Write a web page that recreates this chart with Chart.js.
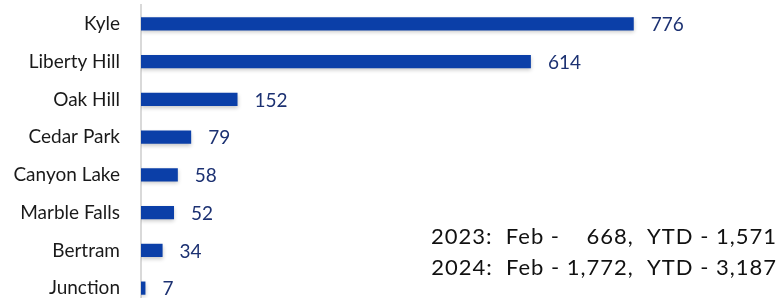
<!DOCTYPE html>
<html>
<head>
<meta charset="utf-8">
<style>
  html, body { margin: 0; padding: 0; background: #fff; overflow: hidden; }
</style>
</head>
<body>
<canvas id="cityChart" width="779" height="310"></canvas>

<script src="https://cdn.jsdelivr.net/npm/chart.js@4.4.1/dist/chart.umd.min.js"></script>

<script>
	// closings by city, Feb 2024
	var cities = ["Kyle", "Liberty Hill", "Oak Hill", "Cedar Park", "Canyon Lake", "Marble Falls", "Bertram", "Junction"]
	var counts = [776, 614, 152, 79, 58, 52, 34, 7]
	var summaryLines = [
		"2023:  Feb -    668,  YTD - 1,571",
		"2024:  Feb - 1,772,  YTD - 3,187"
	]

	const FONT = "Lato, 'Open Sans', sans-serif"

	// soft shadow under the bars, like the original
	const barShadow = {
		id: "barShadow",
		beforeDatasetsDraw(chart) {
			const ctx = chart.ctx
			ctx.save()
			ctx.shadowColor = "rgba(0, 0, 0, 0.22)"
			ctx.shadowBlur = 4
			ctx.shadowOffsetY = 2
		},
		afterDatasetsDraw(chart) {
			chart.ctx.restore()
		}
	}

	// numbers at the end of each bar
	const valueLabels = {
		id: "valueLabels",
		afterDatasetsDraw(chart) {
			const ctx = chart.ctx
			const meta = chart.getDatasetMeta(0)
			ctx.save()
			ctx.font = "19px " + FONT
			ctx.fillStyle = "#1c3172"
			ctx.textBaseline = "middle"
			ctx.textAlign = "left"
			meta.data.forEach((bar, i) => {
				ctx.fillText(counts[i], bar.x + 17, bar.y + 1)
			})
			ctx.restore()
		}
	}

	// the two summary lines, bottom right
	const summary = {
		id: "summary",
		afterDraw(chart) {
			const ctx = chart.ctx
			ctx.save()
			ctx.font = "22px " + FONT
			ctx.letterSpacing = "1px"
			ctx.fillStyle = "#111"
			ctx.textAlign = "right"
			ctx.textBaseline = "alphabetic"
			ctx.fillText(summaryLines[0], 777, 244)
			ctx.fillText(summaryLines[1], 777, 275)
			ctx.restore()
		}
	}

	const chart = new Chart(document.getElementById("cityChart"), {
		type: "bar",
		data: {
			labels: cities,
			datasets: [{
				data: counts,
				backgroundColor: "#0b3fa8",
				barPercentage: 0.7,
				categoryPercentage: 0.5
			}]
		},
		options: {
			indexAxis: "y",
			responsive: false,
			animation: false,
			layout: { padding: { top: 5, right: 3, bottom: 3, left: 0 } },
			plugins: { legend: { display: false }, tooltip: { enabled: false } },
			scales: {
				x: { display: false, min: 0, max: 1000 },
				y: {
					afterFit(scale) {
						scale.width = 141
						scale.paddingTop = 0
						scale.paddingBottom = 0
					},
					grid: { display: false },
					border: { display: true, color: "#d9d9d9", width: 2 },
					ticks: {
						color: "#1a1a1a",
						padding: 13,
						font: { family: FONT, size: 19 }
					}
				}
			}
		},
		plugins: [barShadow, valueLabels, summary]
	})
</script>
</body>
</html>
